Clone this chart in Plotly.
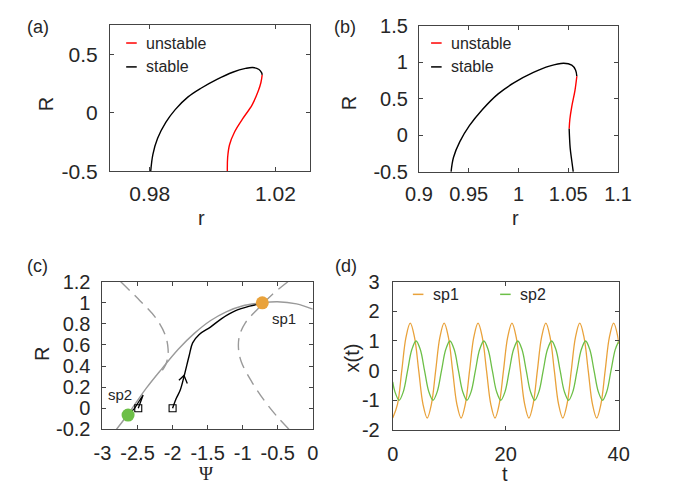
import plotly.graph_objects as go

W, H = 680, 496
FONT = "Liberation Sans, Arial, sans-serif"
INK = "#262626"
RED = "#ff0000"
GRAY = "#9a9a9a"
ORANGE = "#e9a23b"
GREEN = "#6cbf47"

# (a) bifurcation branch
a_stable_r = [0.9803, 0.9810, 0.9825, 0.9851, 0.9881, 0.9922, 0.9963, 1.0014,
              1.0064, 1.0105, 1.0128, 1.0148, 1.0156, 1.0158]
a_stable_R = [-0.50, -0.355, -0.218, -0.082, 0.028, 0.137, 0.211, 0.287,
              0.348, 0.381, 0.389, 0.372, 0.345, 0.325]
a_unstable_r = [1.0158, 1.0154, 1.0146, 1.0126, 1.0095, 1.0070, 1.0054, 1.0048, 1.0047]
a_unstable_R = [0.325, 0.26, 0.192, 0.069, -0.054, -0.164, -0.273, -0.382, -0.50]

# (b) bifurcation branch
b_stable1_r = [0.9323, 0.9347, 0.9411, 0.9507, 0.9636, 0.9796, 0.9957, 1.0150,
               1.0310, 1.0454, 1.0535, 1.0573, 1.0586]
b_stable1_R = [-0.50, -0.303, -0.086, 0.133, 0.352, 0.569, 0.723, 0.863,
               0.950, 0.990, 0.963, 0.897, 0.811]
b_unstable_r = [1.0586, 1.0567, 1.0535, 1.0516, 1.0509]
b_unstable_R = [0.811, 0.614, 0.395, 0.221, 0.090]
b_stable2_r = [1.0509, 1.0519, 1.0535, 1.0550]
b_stable2_R = [0.090, -0.172, -0.348, -0.50]

# (c) phase plane
manifold_psi = [-2.80, -2.639, -2.375, -2.146, -1.919, -1.69, -1.462, -1.235,
                -1.007, -0.724, -0.505, -0.231, 0.0]
manifold_R = [-0.20, -0.06, 0.19, 0.38, 0.56, 0.71, 0.83, 0.915,
              0.97, 1.0, 1.01, 0.99, 0.94]
null_left_psi = [-2.74, -2.466, -2.238, -2.101, -2.064, -2.07, -2.10, -2.17]
null_left_R = [1.20, 1.02, 0.855, 0.688, 0.56, 0.48, 0.41, 0.34]
null_right_psi = [-0.355, -0.573, -0.778, -0.962, -1.045, -1.06, -1.02, -0.87,
                  -0.688, -0.505, -0.34]
null_right_R = [1.20, 1.082, 0.946, 0.81, 0.69, 0.57, 0.44, 0.25,
                0.069, -0.082, -0.20]
traj1_psi = [-2.0, -1.95, -1.892, -1.837, -1.763, -1.714, -1.62, -1.46,
             -1.30, -1.10, -0.90, -0.72]
traj1_R = [0.0, 0.09, 0.17, 0.30, 0.50, 0.62, 0.70, 0.77,
           0.85, 0.925, 0.968, 0.995]
arrow1_psi = [-1.91, -1.837, -1.79]
arrow1_R = [0.266, 0.311, 0.235]
traj2_psi = [-2.49, -2.45, -2.42, -2.46, -2.54, -2.63]
traj2_R = [0.0, 0.07, 0.125, 0.085, 0.0, -0.065]
start_psi = [-2.49, -2.0]
start_R = [0.0, 0.0]
sp_psi = [-0.72, -2.635]
sp_R = [1.0, -0.065]

# (d) time series
t_sp1 = [0.0, 0.85, 1.6, 2.35, 3.1, 3.85, 4.6, 5.35, 6.1, 6.85, 7.6, 8.35, 9.1,
         9.85, 10.6, 11.35, 12.1, 12.85, 13.6, 14.35, 15.1, 15.85, 16.6, 17.35,
         18.1, 18.85, 19.6, 20.35, 21.1, 21.85, 22.6, 23.35, 24.1, 24.85, 25.6,
         26.35, 27.1, 27.85, 28.6, 29.35, 30.1, 30.85, 31.6, 32.35, 33.1, 33.85,
         34.6, 35.35, 36.1, 36.85, 37.6, 38.35, 39.1, 39.85, 40.0]
x_sp1 = [-1.6, -1.13, 0.0, 1.13, 1.6, 1.13, 0.0, -1.13, -1.6, -1.13, 0.0, 1.13, 1.6,
         1.13, 0.0, -1.13, -1.6, -1.13, 0.0, 1.13, 1.6, 1.13, 0.0, -1.13,
         -1.6, -1.13, 0.0, 1.13, 1.6, 1.13, 0.0, -1.13, -1.6, -1.13, 0.0,
         1.13, 1.6, 1.13, 0.0, -1.13, -1.6, -1.13, 0.0, 1.13, 1.6, 1.13,
         0.0, -1.13, -1.6, -1.13, 0.0, 1.13, 1.6, 1.13, 0.9]
t_sp2 = [0.0, 0.38, 1.13, 1.88, 2.63, 3.38, 4.13, 4.88, 5.63, 6.38, 7.13, 7.88,
         8.63, 9.38, 10.13, 10.88, 11.63, 12.38, 13.13, 13.88, 14.63, 15.38, 16.13,
         16.88, 17.63, 18.38, 19.13, 19.88, 20.63, 21.38, 22.13, 22.88, 23.63,
         24.38, 25.13, 25.88, 26.63, 27.38, 28.13, 28.88, 29.63, 30.38, 31.13,
         31.88, 32.63, 33.38, 34.13, 34.88, 35.63, 36.38, 37.13, 37.88, 38.63,
         39.38, 40.0]
x_sp2 = [-0.38, -0.71, -1.0, -0.71, 0.0, 0.71, 1.0, 0.71, 0.0, -0.71, -1.0, -0.71,
         0.0, 0.71, 1.0, 0.71, 0.0, -0.71, -1.0, -0.71, 0.0, 0.71, 1.0,
         0.71, 0.0, -0.71, -1.0, -0.71, 0.0, 0.71, 1.0, 0.71, 0.0,
         -0.71, -1.0, -0.71, 0.0, 0.71, 1.0, 0.71, 0.0, -0.71, -1.0,
         -0.71, 0.0, 0.71, 1.0, 0.71, 0.0, -0.71, -1.0, -0.71, 0.0,
         0.71, 0.99]


def px(x):
    return x / W


def py(y):
    return 1 - y / H


fig = go.Figure()


def curve(x, y, color, axes, dash="solid", width=1.4):
    fig.add_trace(go.Scatter(
        x=x, y=y, mode="lines", xaxis=axes[0], yaxis=axes[1],
        line=dict(color=color, width=width, dash=dash, shape="spline", smoothing=1.0),
        hoverinfo="skip", showlegend=False))


curve(a_stable_r, a_stable_R, "black", ("x", "y"))
curve(a_unstable_r, a_unstable_R, RED, ("x", "y"))

curve(b_stable1_r, b_stable1_R, "black", ("x2", "y2"))
curve(b_unstable_r, b_unstable_R, RED, ("x2", "y2"))
curve(b_stable2_r, b_stable2_R, "black", ("x2", "y2"))

curve(null_left_psi, null_left_R, GRAY, ("x3", "y3"), dash="12px,7px")
curve(null_right_psi, null_right_R, GRAY, ("x3", "y3"), dash="12px,7px")
curve(manifold_psi, manifold_R, GRAY, ("x3", "y3"))
curve(traj1_psi, traj1_R, "black", ("x3", "y3"))
fig.add_trace(go.Scatter(x=arrow1_psi, y=arrow1_R, mode="lines", xaxis="x3", yaxis="y3",
                         line=dict(color="black", width=1.3), hoverinfo="skip",
                         showlegend=False))
fig.add_trace(go.Scatter(x=traj2_psi, y=traj2_R, mode="lines", xaxis="x3", yaxis="y3",
                         line=dict(color="black", width=1.3), hoverinfo="skip",
                         showlegend=False))
fig.add_trace(go.Scatter(x=start_psi, y=start_R, mode="markers", xaxis="x3", yaxis="y3",
                         marker=dict(symbol="square-open", size=7, color="black",
                                     line=dict(width=1.1)),
                         hoverinfo="skip", showlegend=False))
fig.add_trace(go.Scatter(x=sp_psi, y=sp_R, mode="markers", xaxis="x3", yaxis="y3",
                         marker=dict(size=13, color=[ORANGE, GREEN], line=dict(width=0)),
                         hoverinfo="skip", showlegend=False))

curve(t_sp1, x_sp1, ORANGE, ("x4", "y4"), width=1.3)
curve(t_sp2, x_sp2, GREEN, ("x4", "y4"), width=1.3)

axis_common = dict(
    showline=True, linecolor="#444444", linewidth=1, mirror="ticks",
    ticks="inside", ticklen=4, tickwidth=1, tickcolor="#444444",
    showgrid=False, zeroline=False,
)


def ax(domain, anchor, rng, vals, texts, standoff, size=20):
    return dict(axis_common, domain=domain, anchor=anchor, range=rng,
                tickmode="array", tickvals=vals, ticktext=texts,
                ticklabelstandoff=standoff,
                tickfont=dict(family=FONT, size=size, color=INK))


fig.update_layout(
    width=W, height=H, autosize=False,
    margin=dict(l=0, r=0, t=0, b=0),
    paper_bgcolor="white", plot_bgcolor="white",
    xaxis=ax([px(100), px(308.3)], "y", [0.9673, 1.0309],
             [0.98, 1.02], ["0.98", "1.02"], 4, size=21),
    yaxis=ax([py(167.7), py(15)], "x", [-0.5, 0.75],
             [-0.5, 0, 0.5], ["-0.5", "0", "0.5"], 7, size=21),
    xaxis2=ax([px(422.3), px(630)], "y2", [0.9, 1.1],
              [0.9, 0.95, 1.0, 1.05, 1.1], ["0.9", "0.95", "1", "1.05", "1.1"], 4),
    yaxis2=ax([py(168.3), py(15.7)], "x2", [-0.5, 1.5],
              [-0.5, 0, 0.5, 1, 1.5], ["-0.5", "0", "0.5", "1", "1.5"], 6),
    xaxis3=ax([px(92.3), px(311.6)], "y3", [-3, 0],
              [-3, -2.5, -2, -1.5, -1, -0.5, 0],
              ["-3", "-2.5", "-2", "-1.5", "-1", "-0.5", "0"], 6),
    yaxis3=ax([py(437.7), py(283.3)], "x3", [-0.2, 1.2],
              [-0.2, 0, 0.2, 0.4, 0.6, 0.8, 1.0, 1.2],
              ["-0.2", "0", "0.2", "0.4", "0.6", "0.8", "1", "1.2"], 7),
    xaxis4=ax([px(395), px(630.7)], "y4", [0, 40],
              [0, 20, 40], ["0", "20", "40"], 6),
    yaxis4=ax([py(438.3), py(283.3)], "x4", [-2, 3],
              [-2, -1, 0, 1, 2, 3], ["-2", "-1", "0", "1", "2", "3"], 8),
)

annotations = []


def label(text, x, y, size=20, angle=0, xanchor="center", xref="paper", yref="paper",
          family=FONT):
    ax_ = x if xref != "paper" else px(x)
    ay_ = y if yref != "paper" else py(y)
    annotations.append(dict(
        text=text, x=ax_, y=ay_, xref=xref, yref=yref, showarrow=False,
        xanchor=xanchor, yanchor="middle", textangle=angle,
        font=dict(family=family, size=size, color=INK)))


# panel tags
label("(a)", 25, 17, size=18)
label("(b)", 345, 17, size=18)
label("(c)", 24, 267, size=18)
label("(d)", 346, 267, size=18)

# axis titles
label("R", 33, 98, angle=-90)
label("r", 196, 217)
label("R", 349, 97, angle=-90)
label("r", 523, 217)
label("R", 29, 359, angle=-90)
label("Ψ", 200, 484, size=19, family="Liberation Serif, Times New Roman, serif")
label("x(t)", 352, 363, angle=-90)
label("t", 512, 485)

# steady-point tags in (c)
label("sp1", -0.41, 0.85, size=15, xref="x3", yref="y3")
label("sp2", -2.75, 0.128, size=15, xref="x3", yref="y3")

# hand-drawn legends
shapes = []


def legend_item(x0, y, color, text):
    shapes.append(dict(type="line", xref="paper", yref="paper",
                       x0=px(x0), x1=px(x0 + 11), y0=py(y), y1=py(y),
                       line=dict(color=color, width=1.5)))
    label(text, x0 + 19, y, size=16, xanchor="left")


legend_item(117, 33.5, RED, "unstable")
legend_item(117, 58.5, "black", "stable")
legend_item(435, 33.5, RED, "unstable")
legend_item(435, 58.5, "black", "stable")
legend_item(416, 296.5, ORANGE, "sp1")
legend_item(507, 296.5, GREEN, "sp2")

fig.update_layout(annotations=annotations, shapes=shapes)

fig.write_html("out.html")
